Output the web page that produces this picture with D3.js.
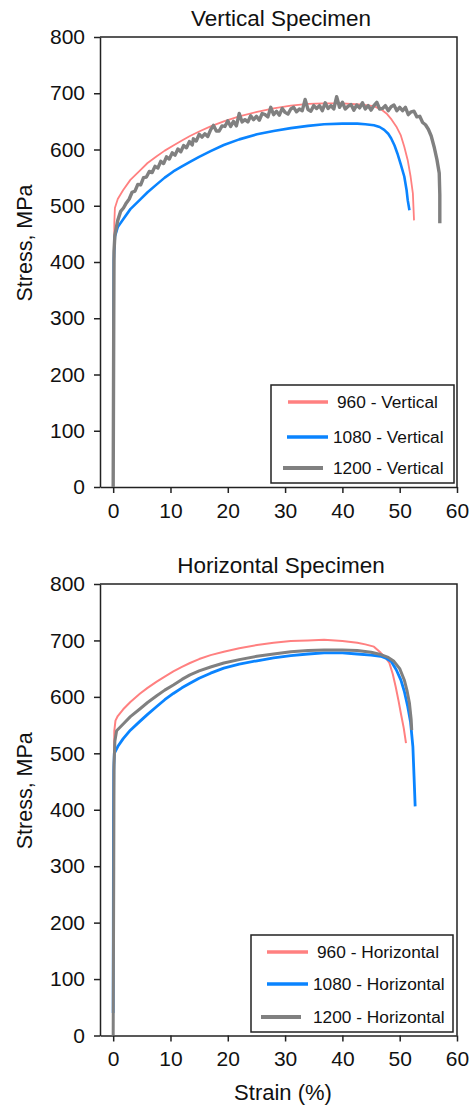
<!DOCTYPE html>
<html>
<head>
<meta charset="utf-8">
<script src="https://cdn.jsdelivr.net/npm/d3@7"></script>
<style>
  body { margin: 0; background: #fff; }
  svg { display: block; font-family: Arial, "Liberation Sans", sans-serif; }
</style>
</head>
<body>
<div id="chart-area"></div>
<script>
const WIDTH = 472
const HEIGHT = 1109

// ticks
const strainTicks = [0, 10, 20, 30, 40, 50, 60]
const stressTicks = [0, 100, 200, 300, 400, 500, 600, 700, 800]

// series names
const vertNames = ["960 - Vertical", "1080 - Vertical", "1200 - Vertical"]
const horizNames = ["960 - Horizontal", "1080 - Horizontal", "1200 - Horizontal"]

// [strain %, stress MPa]
const v960 = [[0,30],[0.1,300],[0.2,470],[0.3,496],[0.8,512],[1.75,528],[3,546],[4.7,563],[6,576],[7.6,588],[9,598],[10.5,607],[12,616],[13.4,624],[15,632],[17,641],[19.3,650],[22,659],[25.1,667],[28,673],[31,678],[34,681],[36.8,682],[40,682],[43,680],[45.5,677],[46.8,671],[47.8,663],[48.6,653],[49.4,641],[50.2,625],[50.8,605],[51.4,581],[51.9,552],[52.3,522],[52.5,474]]

const v1080 = [[0.05,280],[0.1,403],[0.3,445],[0.8,462],[1.75,476],[3,494],[4.7,511],[6,524],[7.6,538],[9,550],[10.5,561],[12,570],[13.4,578],[15,587],[17,597],[19.3,608],[22,618],[25.1,627],[28,633],[31,638],[34,642],[36.8,645],[40,646],[42.6,646],[44,645],[45.5,643],[46.5,640],[47.3,635],[48,628],[48.5,620],[49.1,607],[49.6,593],[50.2,573],[50.8,552],[51.2,528],[51.4,510],[51.7,492]]

const v1200 = [[0,0],[0.1,300],[0.15,420],[0.3,448],[0.8,474],[1.3,490],[1.8,496],[2.3,505],[2.8,512],[3.3,524],[3.8,526],[4.3,538],[4.8,537],[5.3,550],[5.8,551],[6.3,561],[6.8,559],[7.3,570],[7.8,567],[8.3,579],[8.8,575],[9.3,587],[9.8,583],[10.3,594],[10.8,590],[11.3,601],[11.8,596],[12.3,607],[12.8,603],[13.3,614],[13.8,608],
  [14,619],[14.5,615],[15,627],[15.5,622],[16,628],[16.5,623],[17,635],[17.5,643],[18,633],[18.5,633],[19,642],[19.5,641],[20,651],[20.5,641],[21,650],[21.5,642],[22,664],[22.5,649],[23,653],[23.5,649],[24,660],[24.5,653],[25,659],[25.5,652],[26,664],[26.5,662],[27,658],[27.5,675],[28,662],[28.5,668],[29,661],[29.5,673],[30,666],[30.5,663],[31,672],[31.5,675],[32,667],[32.5,672],[33,669],[33.5,689],[34,671],[34.5,668],[35,678],[35.5,673],[36,678],[36.5,669],[37,683],[37.5,673],[38,678],[38.5,672],[39,694],[39.5,675],[40,684],[40.5,672],[41,677],[41.5,680],[42,670],[42.5,679],[43,674],[43.5,683],[44,672],[44.5,678],[45,670],[45.5,678],[46,684],[46.5,672],[47,673],[47.5,678],[48,669],[48.5,676],[49,679],[49.5,669],[50,675],[50.5,669],[51,675],[51.5,662],[52,667],[52.5,668],[53,658],[53.5,659],[54,648],[54.5,644],[55,636],[55.5,624],[56,605],[56.5,582],[56.9,558],[57.0,520],[57.0,469]]

const h960 = [[0,200],[0.1,450],[0.2,540],[0.4,558],[0.8,566],[1.75,578],[3,591],[4.7,606],[6,616],[7.6,627],[9,636],[10.5,645],[12,653],[13.4,660],[15,667],[17,674],[19.3,680],[22,686],[25.1,692],[28,696],[31,699],[34,700],[36.8,701],[40,699],[42.6,696],[44,693],[45.5,689],[46.7,678],[47.5,670],[48.2,660],[48.8,640],[49.3,618],[49.8,593],[50.2,571],[50.7,545],[51.1,518]]

const h1080 = [[0,40],[0.05,380],[0.1,470],[0.2,500],[0.8,512],[1.75,526],[3,541],[4.7,557],[6,569],[7.6,583],[9,595],[10.5,606],[12,616],[13.4,624],[15,633],[17,642],[19.3,651],[22,658],[25.1,664],[28,669],[31,673],[34,676],[36.8,678],[40,678],[42.6,676],[45,674],[46.7,672],[47.7,668],[48.5,663],[49.4,648],[50.2,630],[50.8,610],[51.4,583],[51.9,555],[52.3,512],[52.5,460],[52.7,406]]

const h1200 = [[0,0],[0.1,300],[0.15,480],[0.3,522],[0.6,540],[1.75,552],[3,565],[4.7,579],[6,590],[7.6,602],[9,612],[10.5,621],[12,631],[13.4,639],[15,646],[17,653],[19.3,660],[22,666],[25.1,672],[28,676],[31,680],[34,682],[36.8,683],[40,683],[42.6,682],[45,679],[46.7,675],[48,670],[49,663],[50,650],[50.8,630],[51.3,610],[51.7,589],[52,560],[52.1,541]]

const COLORS = ["#ff8080", "#0a84ff", "#808080"]

const svg = d3.select("#chart-area").append("svg")
  .attr("width", WIDTH)
  .attr("height", HEIGHT)

const panels = [
  {
    title: "Vertical Specimen", top: 37, bottom: 487, titleY: 26,
    series: [v960, v1080, v1200], names: vertNames,
    widths: [1.8, 2.6, 3.4],
    legend: { x: 271, y: 385, w: 183, h: 98,
      rows: [17, 52, 83], lines: [[288, 328], [287, 328], [283, 323]], text: [337, 333, 333] }
  },
  {
    title: "Horizontal Specimen", top: 584, bottom: 1035.5, titleY: 573,
    series: [h960, h1080, h1200], names: horizNames,
    widths: [2, 2.8, 3],
    legend: { x: 251, y: 935, w: 202, h: 97,
      rows: [17, 49, 82], lines: [[267, 308], [267, 308], [261, 301]], text: [317, 313, 313] }
  }
]

panels.forEach((p, i) => {
  const x = d3.scaleLinear().domain([-2.3, 60]).range([100, 457])
  const y = d3.scaleLinear().domain([0, 800]).range([p.bottom, p.top])

  const g = svg.append("g")

  // frame (top + right)
  g.append("path")
    .attr("d", `M100,${p.top}H457V${p.bottom}`)
    .attr("fill", "none")
    .attr("stroke", "#222")
    .attr("stroke-width", 1.5)

  const xAxis = g.append("g")
    .attr("transform", `translate(0, ${p.bottom})`)
    .call(d3.axisBottom(x).tickValues(strainTicks).tickSize(6).tickSizeOuter(0).tickPadding(10))
  const yAxis = g.append("g")
    .attr("transform", "translate(100, 0)")
    .call(d3.axisLeft(y).tickValues(stressTicks).tickSize(6).tickSizeOuter(0).tickPadding(9))

  ;[xAxis, yAxis].forEach(a => {
    a.select(".domain").attr("stroke", "#222").attr("stroke-width", 1.5)
    a.selectAll(".tick line").attr("stroke", "#222").attr("stroke-width", 1.5)
    a.selectAll(".tick text").attr("font-size", "21px").attr("fill", "#111")
      .attr("font-family", "Arial, 'Liberation Sans', sans-serif")
  })

  // title
  g.append("text")
    .attr("x", 281)
    .attr("y", p.titleY)
    .attr("text-anchor", "middle")
    .attr("font-size", "22.5px")
    .attr("fill", "#111")
    .text(p.title)

  // y label
  g.append("text")
    .attr("transform", `translate(32, ${(p.top + p.bottom) / 2 - 19}) rotate(-90)`)
    .attr("text-anchor", "middle")
    .attr("font-size", "21.5px")
    .attr("fill", "#111")
    .text("Stress, MPa")

  // curves
  const line = d3.line().x(d => x(d[0])).y(d => y(d[1]))
  p.series.forEach((s, k) => {
    g.append("path")
      .datum(s)
      .attr("d", line)
      .attr("fill", "none")
      .attr("stroke", COLORS[k])
      .attr("stroke-width", p.widths[k])
      .attr("stroke-linejoin", "round")
  })

  // legend
  const L = p.legend
  const lg = g.append("g")
  lg.append("rect")
    .attr("x", L.x).attr("y", L.y).attr("width", L.w).attr("height", L.h)
    .attr("fill", "#fff").attr("stroke", "#222").attr("stroke-width", 1.5)
  p.names.forEach((n, k) => {
    const yy = L.y + L.rows[k]
    lg.append("line")
      .attr("x1", L.lines[k][0]).attr("x2", L.lines[k][1])
      .attr("y1", yy).attr("y2", yy)
      .attr("stroke", COLORS[k]).attr("stroke-width", k == 2 ? 4 : 3.5)
    lg.append("text")
      .attr("x", L.text[k]).attr("y", yy)
      .attr("dy", "0.35em")
      .attr("font-size", "17.3px")
      .attr("fill", "#111")
      .text(n)
  })
})

// x label
svg.append("text")
  .attr("x", 283)
  .attr("y", 1100)
  .attr("text-anchor", "middle")
  .attr("font-size", "22px")
  .attr("fill", "#111")
  .text("Strain (%)")
</script>
</body>
</html>
